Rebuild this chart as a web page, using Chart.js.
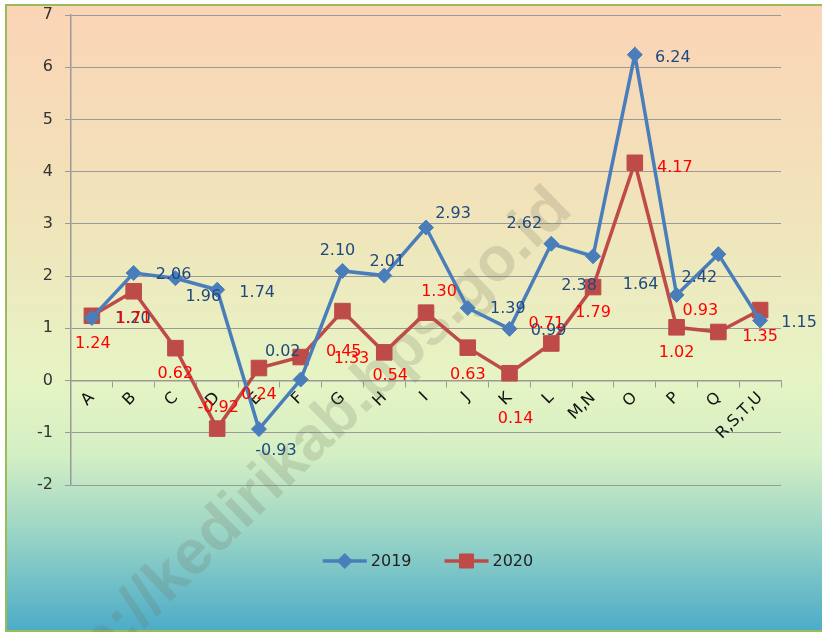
<!DOCTYPE html>
<html><head><meta charset="utf-8">
<script src="https://cdn.jsdelivr.net/npm/chart.js@4.4.1/dist/chart.umd.min.js"></script>
<style>html,body{margin:0;padding:0;background:#fff}#wrap{width:822px;height:632px;position:relative}</style>
</head><body><div id="wrap"><canvas id="c" width="822" height="632"></canvas></div>
<script>
// ---- data ----
const categories = ['A','B','C','D','E','F','G','H','I','J','K','L','M,N','O','P','Q','R,S,T,U'];
const values2019 = [1.20,2.06,1.96,1.74,-0.93,0.02,2.10,2.01,2.93,1.39,0.99,2.62,2.38,6.24,1.64,2.42,1.15];
const values2020 = [1.24,1.71,0.62,-0.92,0.24,0.45,1.33,0.54,1.30,0.63,0.14,0.71,1.79,4.17,1.02,0.93,1.35];
const seriesNames = ['2019','2020'];
const yTicks = [-2,-1,0,1,2,3,4,5,6,7];
const watermarkText = 'http://kedirikab.bps.go.id';

// ---- label placement (pixel offsets from each point, styling only) ----
const labelOffsets2019 = [[41,1],[40,2],[28,19],[40,3],[17,22],[-18,-28],[-5,-20],[3,-14],[27,-14],[40,1],[39,2],[-27,-20],[-14,30],[38,3],[-36,-10],[-19,24],[39,2]];
const labelOffsets2020 = [[1,28],[0,28],[0,26],[1,-21],[0,27],[43,-5],[9,48],[6,23],[13,-21],[0,27],[6,46],[-5,-20],[0,26],[40,5],[0,26],[-18,-21],[0,27]];

const FONT = 'DejaVu Sans';
const BLUE = '#4A7EBB', RED = '#BE4B48';

const bgPlugin = {
  id: 'bg',
  beforeDraw(chart) {
    const ctx = chart.ctx, W = chart.width, H = chart.height;
    const g = ctx.createLinearGradient(0, 0, 0, H);
    g.addColorStop(0, '#FBD4B6');
    g.addColorStop(0.33, '#F1E3BA');
    g.addColorStop(0.6, '#E6F4C4');
    g.addColorStop(0.72, '#D4EFC4');
    g.addColorStop(0.85, '#97D3C6');
    g.addColorStop(1, '#4BABC8');
    ctx.save();
    ctx.fillStyle = g;
    ctx.fillRect(0, 0, W, H);
    ctx.fillStyle = '#fff';
    ctx.fillRect(0, 0, W, 4);
    ctx.fillRect(0, 0, 5, H);
    ctx.strokeStyle = '#9BBB59';
    ctx.lineWidth = 2;
    ctx.beginPath();
    ctx.moveTo(W, 5); ctx.lineTo(6, 5); ctx.lineTo(6, H - 1); ctx.lineTo(W, H - 1);
    ctx.stroke();
    ctx.restore();
  }
};

const watermarkPlugin = {
  id: 'watermark',
  beforeDatasetsDraw(chart) {
    const ctx = chart.ctx;
    ctx.save();
    ctx.translate(574, 212);
    ctx.rotate(-44 * Math.PI / 180);
    ctx.font = 'bold 62px "Liberation Sans"';
    ctx.fillStyle = 'rgba(110,110,90,0.2)';
    ctx.textAlign = 'right';
    ctx.textBaseline = 'alphabetic';
    ctx.fillText(watermarkText, 0, 0);
    ctx.restore();
  }
};

const labelPlugin = {
  id: 'vlabels',
  afterDatasetsDraw(chart) {
    const ctx = chart.ctx;
    const offs = [labelOffsets2019, labelOffsets2020];
    const cols = ['#1F497D', '#FF0000'];
    ctx.save();
    ctx.font = '16px "' + FONT + '"';
    ctx.textAlign = 'center';
    ctx.textBaseline = 'middle';
    chart.data.datasets.forEach((ds, di) => {
      const meta = chart.getDatasetMeta(di);
      ctx.fillStyle = cols[di];
      meta.data.forEach((pt, i) => {
        const o = offs[di][i];
        ctx.fillText(ds.data[i].toFixed(2), pt.x + o[0], pt.y + o[1]);
      });
    });
    ctx.restore();
  }
};

const legendPlugin = {
  id: 'customLegend',
  afterDraw(chart) {
    const ctx = chart.ctx, ca = chart.chartArea;
    ctx.save();
    ctx.font = '16px "' + FONT + '"';
    const lineLen = 44, gap = 4, spacing = 33;
    const items = chart.data.datasets.map(ds => ({ds, w: ctx.measureText(ds.label).width}));
    let total = 0;
    items.forEach((it, i) => { total += lineLen + gap + it.w + (i ? spacing : 0); });
    let x = (ca.left + ca.right) / 2 - total / 2 + 2;
    const y = ca.bottom + 76;
    items.forEach((it) => {
      const ds = it.ds;
      ctx.strokeStyle = ds.borderColor;
      ctx.lineWidth = ds.borderWidth;
      ctx.beginPath(); ctx.moveTo(x, y); ctx.lineTo(x + lineLen, y); ctx.stroke();
      ctx.fillStyle = ds.pointBackgroundColor;
      ctx.strokeStyle = ds.pointBorderColor;
      ctx.lineWidth = 1;
      const r = ds.pointStyle === 'rectRot' ? ds.pointRadius : ds.pointRadius * 0.9;
      ctx.beginPath();
      if (ds.pointStyle === 'rectRot') {
        ctx.moveTo(x + lineLen / 2, y - r); ctx.lineTo(x + lineLen / 2 + r, y);
        ctx.lineTo(x + lineLen / 2, y + r); ctx.lineTo(x + lineLen / 2 - r, y); ctx.closePath();
      } else {
        const s = r * Math.SQRT1_2;
        ctx.rect(x + lineLen / 2 - s, y - s, 2 * s, 2 * s);
      }
      ctx.fill(); ctx.stroke();
      ctx.fillStyle = '#222';
      ctx.textAlign = 'left';
      ctx.textBaseline = 'middle';
      ctx.fillText(ds.label, x + lineLen + gap, y + 1);
      x += lineLen + gap + it.w + spacing;
    });
    ctx.restore();
  }
};

new Chart(document.getElementById('c'), {
  type: 'line',
  data: {
    labels: categories,
    datasets: [
      {label: seriesNames[0], data: values2019, borderColor: BLUE, backgroundColor: BLUE,
       pointBackgroundColor: BLUE, pointBorderColor: BLUE, borderWidth: 3.5,
       pointStyle: 'rectRot', pointRadius: 7.5, pointBorderWidth: 1, tension: 0, fill: false},
      {label: seriesNames[1], data: values2020, borderColor: RED, backgroundColor: RED,
       pointBackgroundColor: RED, pointBorderColor: RED, borderWidth: 3.5,
       pointStyle: 'rect', pointRadius: 11, pointBorderWidth: 1, tension: 0, fill: false}
    ]
  },
  options: {
    responsive: false,
    animation: false,
    devicePixelRatio: 1,
    layout: {padding: {left: 0, right: 41, top: 15, bottom: 147}},
    plugins: {legend: {display: false}, tooltip: {enabled: false}},
    scales: {
      y: {
        min: yTicks[0], max: yTicks[yTicks.length - 1],
        afterBuildTicks: s => { s.ticks = yTicks.map(v => ({value: v})); },
        afterFit: s => { s.width = 71; s.paddingTop = 0; s.paddingBottom = 0; },
        ticks: {font: {family: FONT, size: 16}, color: '#333', padding: 12},
        grid: {color: '#9A9A9A', lineWidth: 1, tickLength: 6, drawTicks: true},
        border: {color: '#9A9A9A', width: 1.5}
      },
      x: {
        type: 'category',
        position: {y: 0},
        offset: true,
        afterFit: s => { s.paddingLeft = 0; s.paddingRight = 0; },
        ticks: {font: {family: FONT, size: 16}, color: '#111', minRotation: 45, maxRotation: 45, padding: 2, autoSkip: false},
        grid: {display: true, drawOnChartArea: false, offset: true, color: '#9A9A9A', tickLength: 6},
        border: {color: '#9A9A9A', width: 1.5}
      }
    }
  },
  plugins: [bgPlugin, watermarkPlugin, labelPlugin, legendPlugin]
});
</script>
</body></html>
